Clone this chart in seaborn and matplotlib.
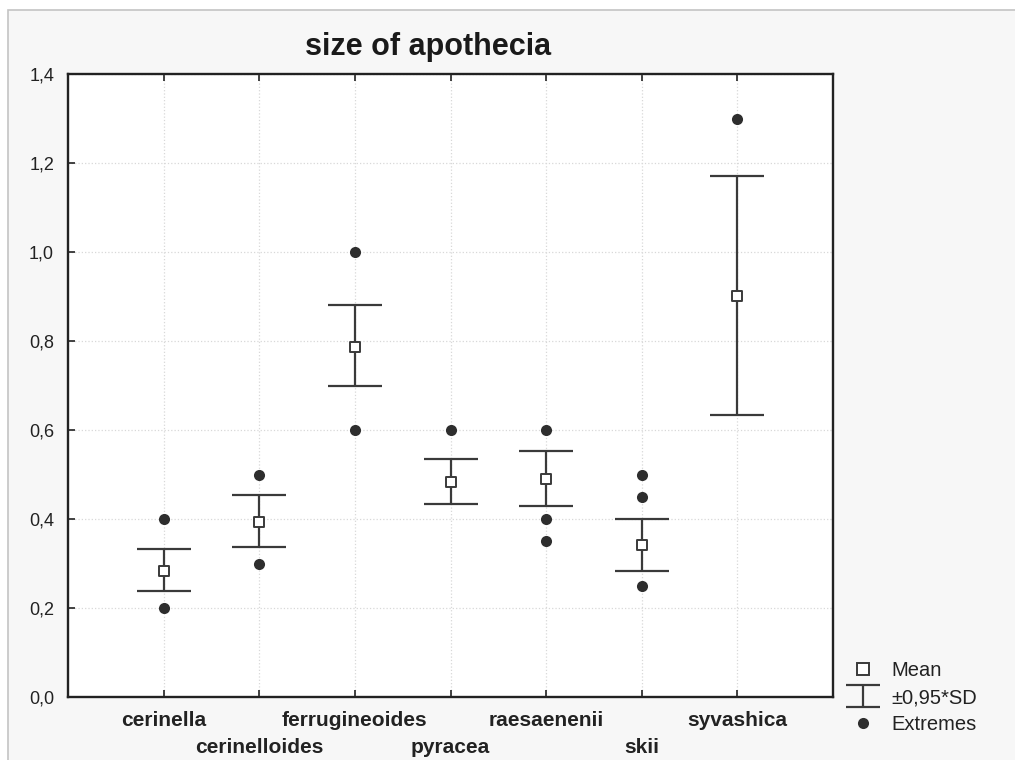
import numpy as np
import pandas as pd
import matplotlib
matplotlib.use("Agg")
import matplotlib.pyplot as plt
import seaborn as sns
from matplotlib.lines import Line2D
from matplotlib.path import Path
from matplotlib.patches import Rectangle
import matplotlib.transforms as mtransforms

# ---------------- data ----------------
categories = ["cerinella", "cerinelloides", "ferrugineoides", "pyracea",
              "raesaenenii", "skii", "syvashica"]
means = [0.283, 0.393, 0.787, 0.484, 0.491, 0.342, 0.902]
sd_low = [0.238, 0.338, 0.699, 0.433, 0.430, 0.284, 0.634]
sd_high = [0.332, 0.454, 0.882, 0.534, 0.552, 0.399, 1.171]

ext_cat = ["cerinella", "cerinella", "cerinelloides", "cerinelloides",
           "ferrugineoides", "ferrugineoides", "pyracea",
           "raesaenenii", "raesaenenii", "raesaenenii",
           "skii", "skii", "skii", "syvashica"]
ext_val = [0.40, 0.20, 0.50, 0.30, 1.00, 0.60, 0.60,
           0.60, 0.40, 0.35, 0.50, 0.45, 0.25, 1.30]

yticks = [0.0, 0.2, 0.4, 0.6, 0.8, 1.0, 1.2, 1.4]
ytick_labels = ["0,0", "0,2", "0,4", "0,6", "0,8", "1,0", "1,2", "1,4"]
title = "size of apothecia"
legend_labels = ["Mean", "\u00b10,95*SD", "Extremes"]

# ---------------- style ----------------
sns.set_style("ticks")
plt.rcParams["font.family"] = ["Liberation Sans", "DejaVu Sans"]

dark = "#2e2e2e"
line_c = "#3a3a3a"

df_ext = pd.DataFrame({"category": ext_cat, "value": ext_val})
df_mean = pd.DataFrame({"category": categories, "mean": means})

fig = plt.figure(figsize=(10.15, 7.6), dpi=100)
fig.patch.set_facecolor("white")
fig.add_artist(Rectangle((8 / 1015, -0.02), 1.1, (760 - 10) / 760 + 0.02,
                         transform=fig.transFigure, facecolor="#f7f7f7",
                         edgecolor="#c4c4c4", linewidth=1.2, zorder=-10))

ax = fig.add_axes([68 / 1015, 1 - 697 / 760, (833 - 68) / 1015, (697 - 74) / 760])
ax.set_facecolor("white")

# error bars (±0.95*SD)
pos = np.arange(len(categories))
m = np.array(means)
err = [m - np.array(sd_low), np.array(sd_high) - m]
ax.errorbar(pos, m, yerr=err, fmt="none", ecolor=line_c, elinewidth=1.6,
            capsize=19.5, capthick=1.6, zorder=3)

# extremes
sns.stripplot(data=df_ext, x="category", y="value", order=categories,
              jitter=False, color=dark, size=8, linewidth=0, ax=ax, zorder=4)
# means
sns.stripplot(data=df_mean, x="category", y="mean", order=categories,
              jitter=False, marker="s", color="white", edgecolor=line_c,
              linewidth=1.4, size=7.5, ax=ax, zorder=5)

ax.set_xlim(-1, len(categories))
ax.set_ylim(0, 1.4)
ax.set_yticks(yticks)
ax.set_yticklabels(ytick_labels, fontsize=13, color="#222222")
ax.set_xticks(pos)
ax.set_xticklabels(categories, fontsize=15, fontweight="bold", color="#222222")
ax.set_xlabel("")
ax.set_ylabel("")

ax.tick_params(axis="x", direction="in", top=True, bottom=True, length=5,
               width=1.2, color="#222222", pad=10)
ax.tick_params(axis="y", direction="in", left=True, right=False, length=5,
               width=1.2, color="#222222", pad=10)

offset = mtransforms.ScaledTranslation(0, -27 / 100, fig.dpi_scale_trans)
for i, lab in enumerate(ax.get_xticklabels()):
    if i % 2 == 1:
        lab.set_transform(lab.get_transform() + offset)

ax.grid(True, linestyle=":", color="#d8d8d8", linewidth=0.9)
ax.set_axisbelow(True)
for s in ax.spines.values():
    s.set_visible(True)
    s.set_color("#222222")
    s.set_linewidth(1.7)

fig.text(428 / 1015, 1 - 47 / 760, title, ha="center", va="center",
         fontsize=22, fontweight="bold", color="#1a1a1a")

# legend
ipath = Path([(-1, 0.65), (1, 0.65), (0, 0.65), (0, -0.65), (-1, -0.65), (1, -0.65)],
             [Path.MOVETO, Path.LINETO, Path.MOVETO, Path.LINETO, Path.MOVETO, Path.LINETO])
handles = [
    Line2D([], [], linestyle="none", marker="s", markersize=8,
           markerfacecolor="white", markeredgecolor=line_c, markeredgewidth=1.4),
    Line2D([], [], linestyle="none", marker=ipath, markersize=24.5,
           markerfacecolor="none", markeredgecolor=line_c, markeredgewidth=1.6),
    Line2D([], [], linestyle="none", marker="o", markersize=8,
           markerfacecolor=dark, markeredgewidth=0),
]
fig.legend(handles, legend_labels, loc="upper left",
           bbox_to_anchor=(846 / 1015, 1 - 661 / 760),
           frameon=False, fontsize=14.5, borderpad=0, borderaxespad=0,
           handlelength=1.69, handletextpad=0.55, labelspacing=0.4,
           labelcolor="#222222")

fig.savefig("out.png", dpi=100)
